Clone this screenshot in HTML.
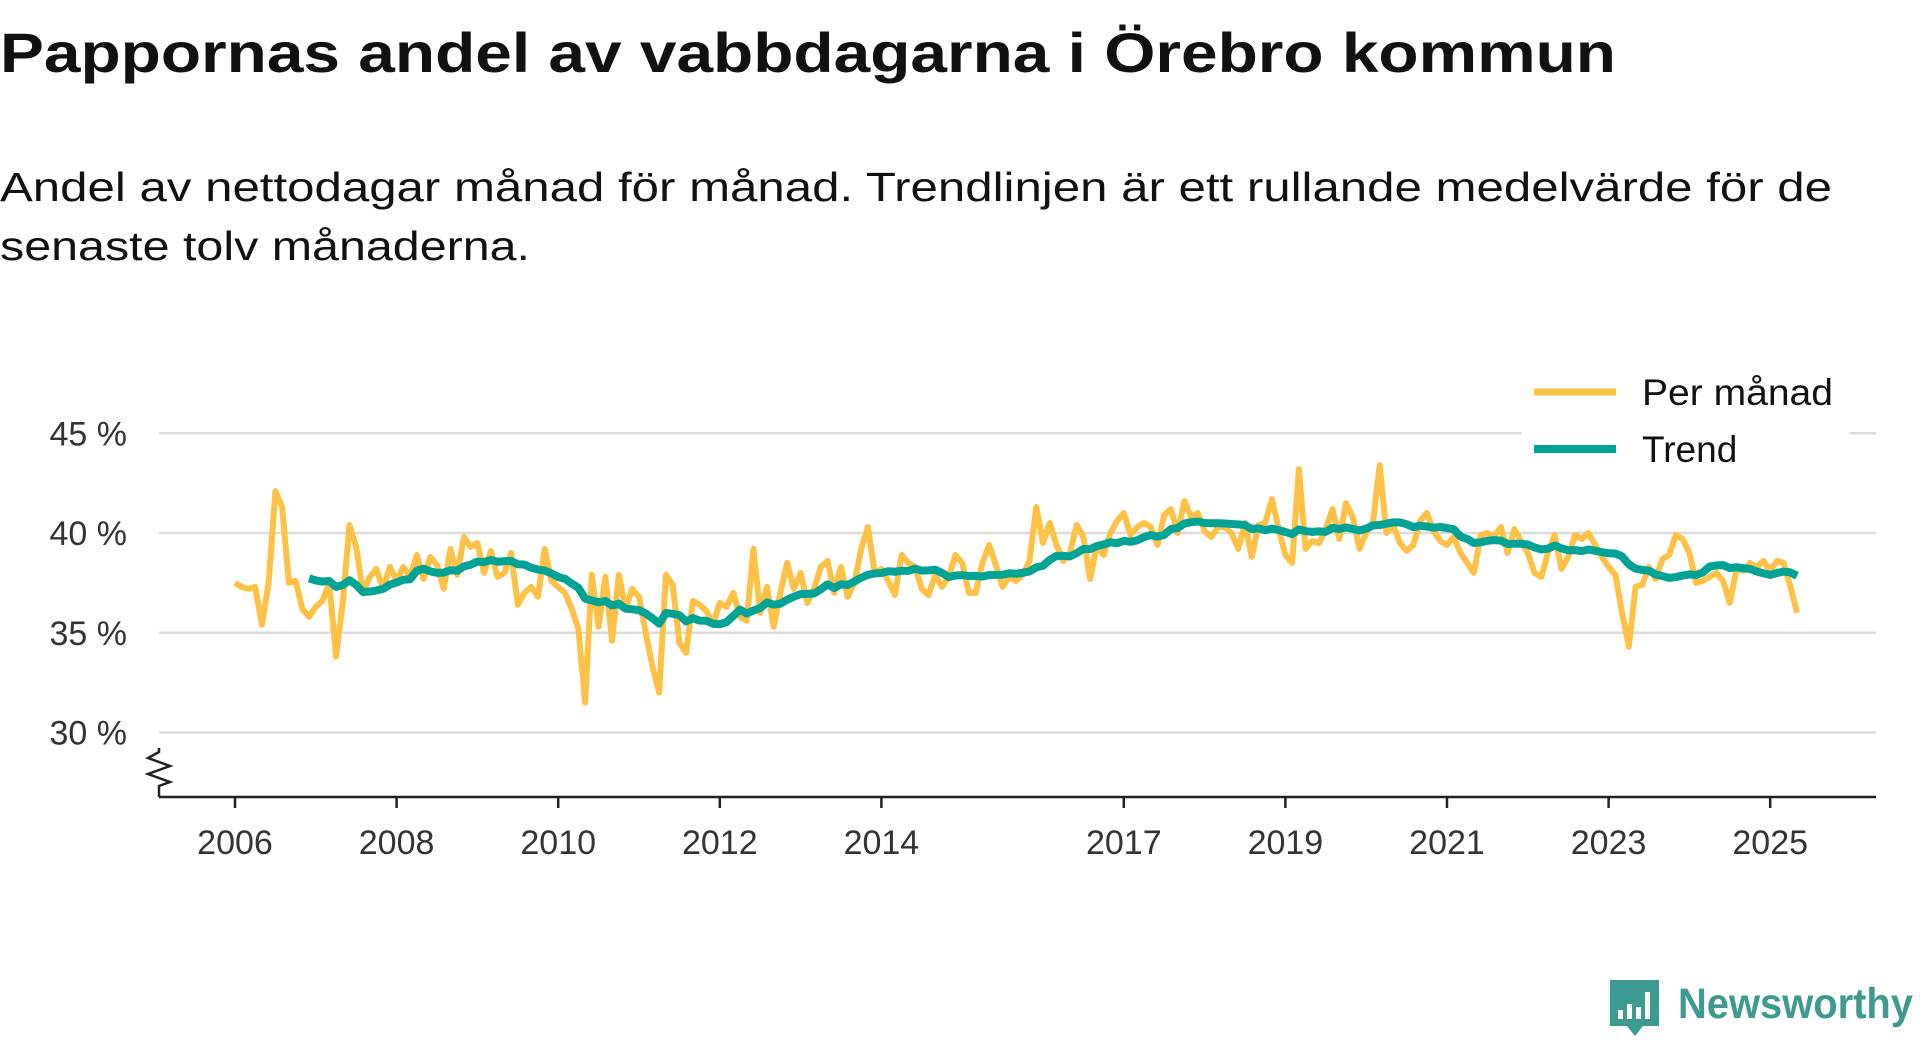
<!DOCTYPE html>
<html><head><meta charset="utf-8"><style>
html,body{margin:0;padding:0;background:#fff;}
svg{display:block;font-family:"Liberation Sans",sans-serif;}
</style></head><body>
<svg id="chart" width="1920" height="1040" viewBox="0 0 1920 1040">
<text x="0" y="72" font-size="56" font-weight="bold" fill="#111" textLength="1616" lengthAdjust="spacingAndGlyphs">Pappornas andel av vabbdagarna i Örebro kommun</text>
<text x="0" y="201" font-size="41" fill="#111" textLength="1832" lengthAdjust="spacingAndGlyphs">Andel av nettodagar månad för månad. Trendlinjen är ett rullande medelvärde för de</text>
<text x="0" y="260" font-size="41" fill="#111" textLength="530" lengthAdjust="spacingAndGlyphs">senaste tolv månaderna.</text>
<g id="grid"></g>
<g id="yaxis"></g>
<g id="xaxis"></g>
<g id="series"></g>
<g>
<rect x="1522" y="420" width="328" height="50" fill="#fff"/>
<line x1="1534" y1="392" x2="1616" y2="392" stroke="#ffc145" stroke-width="7"/>
<text x="1642" y="405" font-size="37" fill="#111" textLength="191" lengthAdjust="spacingAndGlyphs">Per månad</text>
<line x1="1534" y1="449" x2="1616" y2="449" stroke="#00a396" stroke-width="8"/>
<text x="1642" y="462" font-size="37" fill="#111">Trend</text>
</g>
<g>
<path d="M1610 980 h49 v46 h-16 l-8 10 l-8 -10 h-17 z" fill="#3d9a90"/>
<rect x="1618" y="1010" width="5" height="9" fill="#fff"/><rect x="1627" y="1004" width="5" height="15" fill="#fff"/><rect x="1636" y="1007" width="5" height="12" fill="#fff"/><rect x="1645" y="992" width="5" height="27" fill="#fff"/>
<text x="1678" y="1018" font-size="43" font-weight="bold" fill="#3d9a90" textLength="235" lengthAdjust="spacingAndGlyphs">Newsworthy</text>
</g>
</svg>
<script>
const monthly = [
37.5,37.3,37.2,37.3,35.4,37.5,42.1,41.3,37.5,37.6,36.2,35.8,
36.3,36.6,37.5,33.8,36.5,40.4,39.3,37.0,37.8,38.2,37.2,38.3,
37.6,38.3,37.8,38.9,37.7,38.8,38.4,37.2,39.2,37.9,39.8,39.3,
39.5,38.0,39.1,37.8,38.0,39.0,36.4,37.0,37.3,36.8,39.2,37.6,
37.3,37.0,36.2,35.2,31.5,37.9,35.3,37.8,34.6,37.9,36.2,37.2,
36.8,35.0,33.3,32.0,37.9,37.4,34.5,34.0,36.6,36.4,36.1,35.4,
36.5,36.3,37.0,35.8,35.6,39.2,36.0,37.3,35.3,37.0,38.5,37.2,
38.0,36.5,37.2,38.3,38.6,37.0,38.3,36.8,37.5,39.2,40.3,38.0,
38.2,37.6,36.9,38.9,38.5,38.3,37.2,36.9,37.9,37.3,37.8,38.9,
38.5,37.0,37.0,38.5,39.4,38.4,37.3,37.8,37.6,37.9,38.6,41.3,
39.5,40.5,39.4,38.6,39.0,40.4,39.8,37.7,39.4,38.9,40.0,40.6,
41.0,39.9,40.3,40.5,40.3,39.4,40.9,41.2,40.0,41.6,40.8,41.0,
40.1,39.8,40.3,40.3,40.0,39.2,40.5,38.8,40.4,40.5,41.7,40.2,
38.9,38.5,43.2,39.2,39.6,39.5,40.2,41.2,39.7,41.5,40.8,39.2,
40.0,40.5,43.4,40.0,40.4,39.5,39.1,39.4,40.6,41.0,40.1,39.6,
39.4,39.8,39.0,38.5,38.0,39.9,40.0,39.8,40.3,39.0,40.2,39.6,
39.0,38.0,37.8,39.0,39.9,38.2,38.8,39.9,39.7,40.0,39.4,38.8,
38.3,37.9,36.0,34.3,37.3,37.4,38.3,37.7,38.7,38.9,39.9,39.7,
39.0,37.5,37.6,37.8,38.0,37.6,36.5,38.2,38.1,38.5,38.3,38.6,
38.1,38.6,38.5,37.3,36.0
];
const startYear = 2006;
const yTicks = [30,35,40,45];
const yTickLabels = ["30 %","35 %","40 %","45 %"];
const xTicks = [2006,2008,2010,2012,2014,2017,2019,2021,2023,2025];

const NS="http://www.w3.org/2000/svg";
function xS(t){return 235+(t-2006)*80.8;}
function yS(v){return 533-(v-40)*19.95;}
function mk(tag,attrs,parent){const e=document.createElementNS(NS,tag);for(const k in attrs)e.setAttribute(k,attrs[k]);parent.appendChild(e);return e;}
const grid=document.getElementById('grid'),ya=document.getElementById('yaxis'),xa=document.getElementById('xaxis'),ser=document.getElementById('series');
yTicks.forEach((v,i)=>{
  const l=mk('line',{x1:159,x2:1876,y1:yS(v),y2:yS(v),stroke:'#dcdcdc','stroke-width':2.5},grid);
  
  
  const t=mk('text',{x:127,y:yS(v)+12,'text-anchor':'end','font-size':34,fill:'#333'},ya);
  t.textContent=yTickLabels[i];
  
  
});
const br=mk('path',{d:'M159 748 L159 752 L148 758 L170 766 L148 774 L170 782 L159 786 L159 797',fill:'none',stroke:'#222','stroke-width':2.5},ya);


const ax=mk('line',{x1:159,x2:1876,y1:797,y2:797,stroke:'#222','stroke-width':2.5},xa);


xTicks.forEach(yr=>{
  const tk=mk('line',{x1:xS(yr),x2:xS(yr),y1:797,y2:808,stroke:'#222','stroke-width':2.5},xa);
  
  
  const t=mk('text',{x:xS(yr),y:854,'text-anchor':'middle','font-size':34,fill:'#333'},xa);
  t.textContent=yr;
  
  
});
const mp=monthly.map((v,i)=>[xS(startYear+i/12),yS(v)]);
const p1=mk('polyline',{points:mp.map(p=>p.join(',')).join(' '),fill:'none',stroke:'#ffc145','stroke-width':6,'stroke-linejoin':'round'},ser);


const tp=[];
for(let i=11;i<monthly.length;i++){let s=0;for(let j=i-11;j<=i;j++)s+=monthly[j];tp.push([xS(startYear+i/12),yS(s/12)]);}
const p2=mk('polyline',{points:tp.map(p=>p.join(',')).join(' '),fill:'none',stroke:'#00a396','stroke-width':8,'stroke-linejoin':'round'},ser);


</script>
</body></html>
